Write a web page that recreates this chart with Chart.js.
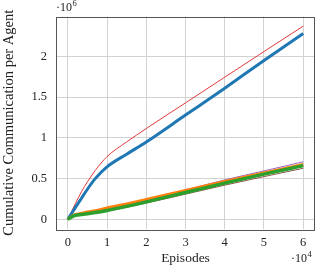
<!DOCTYPE html>
<html>
<head>
<meta charset="utf-8">
<script src="https://cdn.jsdelivr.net/npm/chart.js@4/dist/chart.umd.min.js"></script>
<style>
  html, body { margin: 0; padding: 0; background: #fff; }
  #wrap { width: 316px; height: 271px; }
</style>
</head>
<body>
<div id="wrap"><canvas id="chart" width="316" height="271"></canvas></div>
<script>
// episodes (x) and cumulative communication per agent (y)
const episodes = [0, 1000, 2000, 3500, 5000, 7000, 10000, 15000, 20000, 30000, 40000, 50000, 60000];
const blueVals   = [0, 0.075e6, 0.15e6, 0.26e6, 0.37e6, 0.5e6, 0.645e6, 0.8e6, 0.95e6, 1.28e6, 1.61e6, 1.95e6, 2.28e6];
const redVals    = [0, 0.1e6, 0.2e6, 0.34e6, 0.46e6, 0.6e6, 0.77e6, 0.95e6, 1.115e6, 1.43e6, 1.745e6, 2.06e6, 2.372e6];
const orangeVals = [0, 0.035e6, 0.06e6, 0.075e6, 0.09e6, 0.105e6, 0.14e6, 0.19e6, 0.245e6, 0.355e6, 0.465e6, 0.57e6, 0.675e6];
const greenVals  = [0, 0.03e6, 0.05e6, 0.06e6, 0.07e6, 0.085e6, 0.11e6, 0.16e6, 0.215e6, 0.33e6, 0.445e6, 0.555e6, 0.66e6];
const purpleVals = [0, 0.03e6, 0.055e6, 0.07e6, 0.085e6, 0.1e6, 0.13e6, 0.185e6, 0.24e6, 0.36e6, 0.485e6, 0.595e6, 0.707e6];
const brownVals  = [0, 0.028e6, 0.048e6, 0.058e6, 0.067e6, 0.08e6, 0.1e6, 0.15e6, 0.2e6, 0.31e6, 0.42e6, 0.525e6, 0.627e6];

const xTicks = [0, 10000, 20000, 30000, 40000, 50000, 60000];
const yTicks = [0, 500000, 1000000, 1500000, 2000000];

const serif = '"Liberation Serif", "DejaVu Serif", serif';

function pts(vals) {
  return episodes.map((x, i) => ({ x: x, y: vals[i] }));
}

function line(vals, color, width, order) {
  return {
    data: pts(vals),
    borderColor: color,
    borderWidth: width,
    pointRadius: 0,
    cubicInterpolationMode: 'monotone',
    fill: false,
    order: order
  };
}

// frame box + the ·10^n multipliers
const frame = {
  id: 'frame',
  afterDraw(chart) {
    const c = chart.ctx, a = chart.chartArea;
    c.save();
    c.strokeStyle = '#555';
    c.lineWidth = 1;
    c.strokeRect(Math.round(a.left) + 0.5, Math.round(a.top) + 0.5,
      Math.round(a.right - a.left) - 1, Math.round(a.bottom - a.top));
    c.fillStyle = '#222';
    c.textBaseline = 'alphabetic';
    function power(txt, sup, x, y) {
      c.font = '12px ' + serif;
      c.textAlign = 'left';
      c.fillText(txt, x, y);
      const w = c.measureText(txt).width;
      c.font = '8.5px ' + serif;
      c.fillText(sup, x + w + 0.5, y - 5);
    }
    power('\u00b710', '6', 56, 11);
    power('\u00b710', '4', 291, 262);
    c.restore();
  }
};

new Chart(document.getElementById('chart'), {
  type: 'line',
  data: {
    datasets: [
      line(blueVals, '#1f77b4', 3, 3),
      line(orangeVals, '#ff7f0e', 3, 2),
      line(greenVals, '#2ca02c', 3.5, 1),
      line(redVals, '#e0393b', 1, 4),
      line(purpleVals, '#9467bd', 1, 5),
      line(brownVals, '#8c564b', 1, 6)
    ]
  },
  options: {
    responsive: false,
    animation: false,
    events: [],
    layout: { padding: { top: 15, right: 1, left: 0, bottom: 0 } },
    plugins: { legend: { display: false }, tooltip: { enabled: false } },
    scales: {
      x: {
        type: 'linear',
        min: -3000,
        max: 63000,
        afterBuildTicks: s => { s.ticks = xTicks.map(v => ({ value: v })); },
        afterFit: s => { s.height = 42; },
        grid: { color: '#d2d2d2', lineWidth: 1, drawTicks: false },
        border: { display: false },
        ticks: {
          color: '#222',
          padding: 6,
          maxRotation: 0,
          font: { family: serif, size: 12.5 },
          callback: v => String(v / 10000)
        },
        title: {
          display: true,
          text: 'Episodes',
          color: '#222',
          padding: { top: 0, bottom: 4 },
          font: { family: serif, size: 13.5 }
        }
      },
      y: {
        type: 'linear',
        min: -118000,
        max: 2490000,
        afterBuildTicks: s => { s.ticks = yTicks.map(v => ({ value: v })); },
        afterFit: s => { s.width = 56; },
        grid: { color: '#d2d2d2', lineWidth: 1, drawTicks: false },
        border: { display: false },
        ticks: {
          color: '#222',
          padding: 9,
          font: { family: serif, size: 12.5 },
          callback: v => String(v / 1000000)
        },
        title: {
          display: true,
          text: 'Cumulative Communication per Agent',
          color: '#222',
          padding: { top: 0, bottom: 1 },
          font: { family: serif, size: 14.5 }
        }
      }
    }
  },
  plugins: [frame]
});
</script>
</body>
</html>
